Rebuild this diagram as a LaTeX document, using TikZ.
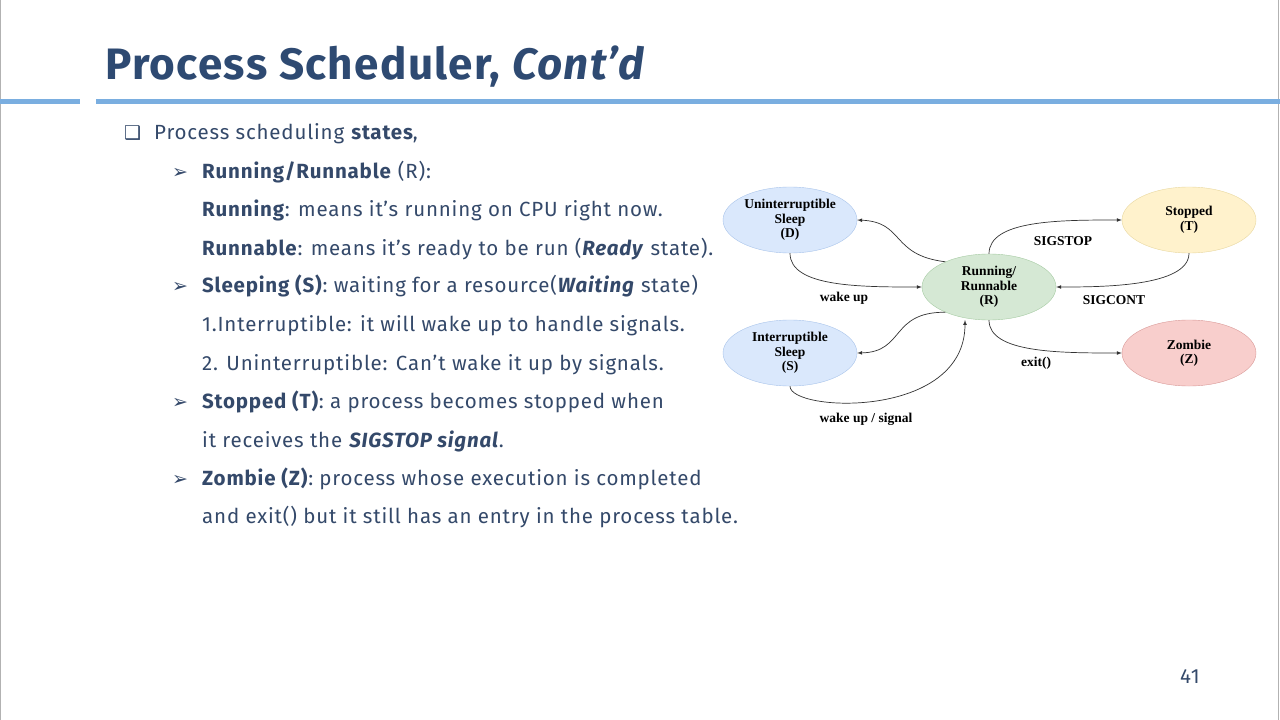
\documentclass[tikz,border=0pt]{standalone}
\usepackage{fontspec}
\usetikzlibrary{shapes.geometric}
\setmainfont{Fira Sans}[LetterSpace=4]
\newfontfamily\titlefont{Fira Sans}[LetterSpace=3]
\newfontfamily\djfont{DejaVu Sans}
\newfontfamily\serfont{Liberation Serif}
\begin{document}
\begin{tikzpicture}[x=1pt,y=-1pt,
  tx/.style={anchor=base west,inner sep=0,text=txtc,font=\fontsize{20.5}{24}\selectfont},
  st/.style={ellipse,draw,minimum width=134,minimum height=66,inner sep=0,align=center,font=\serfont\bfseries\fontsize{13.5}{14.5}\selectfont},
  lb/.style={font=\serfont\bfseries\fontsize{13.5}{14}\selectfont,inner sep=0},
  ar/.style={-latex,draw=black!80,line width=0.7}]
\definecolor{txtc}{HTML}{34496A}
\definecolor{ttl}{HTML}{2E4A72}
\definecolor{bar}{HTML}{7AAEE0}
\useasboundingbox (0,0) rectangle (1280,720);
\fill[white] (0,0) rectangle (1280,720);
\draw[gray!60] (0.5,0) -- (0.5,720) (1278,0) -- (1278,720);
\fill[bar] (0,98.5) rectangle (80,104);
\fill[bar] (96,98.5) rectangle (1280,104);
\node[anchor=base west,inner sep=0,text=ttl,font=\titlefont\bfseries\fontsize{44}{50}\selectfont] (title) at (105,79) {Process Scheduler, \textit{Cont’d}};
\node[tx,font=\djfont\fontsize{19}{20}\selectfont] (b0) at (124,139) {❑};
\node[tx] (l0) at (154,139) {Process scheduling \textbf{states},};
\foreach \y/\n in {178/a1,292/a2,408/a3,485/a4}
  \node[tx,font=\djfont\fontsize{19}{20}\selectfont] (\n) at (172,\y) {➢};
\node[tx] (l1) at (202,178) {\textbf{Running/Runnable} (R):};
\node[tx] (l2) at (202,216) {\textbf{Running}: means it’s running on CPU right now.};
\node[tx] (l3) at (202,255) {\textbf{Runnable}: means it’s ready to be run (\textbf{\textit{Ready}} state).};
\node[tx] (l4) at (202,292) {\textbf{Sleeping (S)}: waiting for a resource(\textbf{\textit{Waiting}} state)};
\node[tx] (l5) at (202,331) {1.Interruptible: it will wake up to handle signals.};
\node[tx] (l6) at (202,370) {2. Uninterruptible: Can’t wake it up by signals.};
\node[tx] (l7) at (202,408) {\textbf{Stopped (T)}: a process becomes stopped when};
\node[tx] (l8) at (202,447) {it receives the \textbf{\textit{SIGSTOP signal}}.};
\node[tx] (l9) at (202,485) {\textbf{Zombie (Z)}: process whose execution is completed};
\node[tx] (l10) at (202,523) {and exit() but it still has an entry in the process table.};
\node[tx] (pg) at (1180,683) {41};
% diagram
\definecolor{bf}{HTML}{DAE8FC}\definecolor{bd}{HTML}{A9C4EB}
\definecolor{gf}{HTML}{D5E8D4}\definecolor{gd}{HTML}{A6CBA3}
\definecolor{yf}{HTML}{FFF2CC}\definecolor{yd}{HTML}{E8D8A0}
\definecolor{rf}{HTML}{F8CECC}\definecolor{rd}{HTML}{D99A98}
\node[st,fill=bf,draw=bd] (D) at (790,220) {Uninterruptible\\Sleep\\(D)};
\node[st,fill=bf,draw=bd] (S) at (790,353) {Interruptible\\Sleep\\(S)};
\node[st,fill=gf,draw=gd] (R) at (989,287) {Running/\\Runnable\\(R)};
\node[st,fill=yf,draw=yd] (T) at (1189,220) {Stopped\\(T)};
\node[st,fill=rf,draw=rd] (Z) at (1189,353) {Zombie\\(Z)};
\draw[ar] (R.150) .. controls (890,255) and (905,222) .. (D.east);
\draw[ar] (D.south) .. controls (790,287) and (860,287) .. (R.west);
\draw[ar] (R.210) .. controls (890,312) and (905,352) .. (S.east);
\draw[ar] (S.south) .. controls (790,412) and (965,420) .. (965,320);
\draw[ar] (R.north) .. controls (989,220) and (1060,220) .. (T.west);
\draw[ar] (T.south) .. controls (1189,287) and (1100,287) .. (R.east);
\draw[ar] (R.south) .. controls (989,353) and (1060,353) .. (Z.west);
\node[lb] (e1) at (1063,241) {SIGSTOP};
\node[lb] (e2) at (1114,300) {SIGCONT};
\node[lb] (e3) at (844,298) {wake up};
\node[lb] (e4) at (1036,363) {exit()};
\node[lb] (e5) at (866,419) {wake up / signal};
\end{tikzpicture}
\end{document}
